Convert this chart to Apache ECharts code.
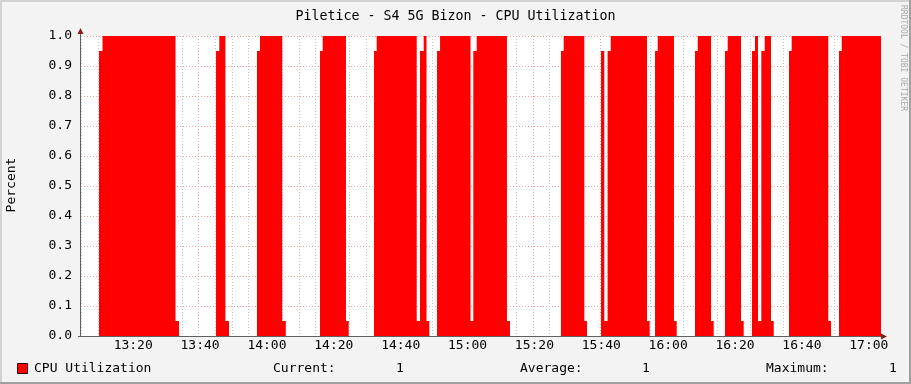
<!DOCTYPE html>
<html>
<head>
<meta charset="utf-8">
<script src="https://cdn.jsdelivr.net/npm/echarts@6/dist/echarts.min.js"></script>
<style>
html,body{margin:0;padding:0;background:#F3F3F3;}
#chart{width:911px;height:384px;}
</style>
</head>
<body>
<div id="chart"></div>
<script>
// ---- data ----
const chartTitle = 'Piletice - S4 5G Bizon - CPU Utilization';
const yAxisName = 'Percent';
const seriesName = 'CPU Utilization';
const rangeStart = '13:04:50';
const rangeEnd = '17:04:06';
// change points of the step series: value holds from this time until the next one
const changeTimes = [
  '13:04:50','13:10:13','13:11:16','13:33:06','13:34:09',
  '13:45:13','13:46:12','13:48:01','13:49:06',
  '13:57:28','13:58:22','14:05:01','14:06:05',
  '14:16:19','14:17:07','14:24:05','14:24:54',
  '14:32:28','14:33:16','14:45:14','14:46:13','14:47:20','14:48:10','14:49:01',
  '14:51:19','14:52:13','15:01:20','15:02:10','15:03:11','15:12:14','15:13:08',
  '15:28:23','15:29:12','15:35:22','15:36:10',
  '15:40:22','15:41:20','15:42:20','15:43:16','15:54:07','15:54:55',
  '15:56:31','15:57:19','16:02:11','16:03:00',
  '16:08:28','16:09:17','16:13:16','16:14:04',
  '16:17:26','16:18:15','16:22:14','16:23:02',
  '16:25:31','16:26:25','16:27:19','16:28:18','16:29:19','16:31:12','16:32:01',
  '16:36:35','16:37:23','16:48:20','16:49:09',
  '16:51:32','16:52:21','17:04:06'
];
const cpuValues = [
  0,0.95,1.0,0.05,0,
  0.95,1.0,0.05,0,
  0.95,1.0,0.05,0,
  0.95,1.0,0.05,0,
  0.95,1.0,0.05,0.95,1.0,0.05,0,
  0.95,1.0,0.05,0.95,1.0,0.05,0,
  0.95,1.0,0.05,0,
  0.95,0.05,0.95,1.0,0.05,0,
  0.95,1.0,0.05,0,
  0.95,1.0,0.05,0,
  0.95,1.0,0.05,0,
  0.95,1.0,0.05,0.95,1.0,0.05,0,
  0.95,1.0,0.05,0,
  0.95,1.0,1.0
];
const legendStats = [
  ['Current:', '1'],
  ['Average:', '1'],
  ['Maximum:', '1']
];
const creditText = 'RRDTOOL / TOBI OETIKER';

// ---- helpers: x is minutes after 13:00 ----
const BASE_MIN = 13 * 60;
function toMin(s){
  const p = s.split(':').map(Number);
  return p[0] * 60 + p[1] + (p[2] || 0) / 60 - BASE_MIN;
}
function fmtMin(v){
  const total = Math.round(v) + BASE_MIN;
  const h = Math.floor(total / 60), m = total % 60;
  return String(h).padStart(2, '0') + ':' + String(m).padStart(2, '0');
}
const seriesData = changeTimes.map((t, i) => [toMin(t), cpuValues[i]]);
const xMin = toMin(rangeStart), xMax = toMin(rangeEnd);
const span = xMax - xMin;

const MONO = '"DejaVu Sans Mono", "Liberation Mono", monospace';
const gridL = 81, gridT = 36, gridW = 800, gridH = 300;

const statX = [[273, 396], [520, 642], [766, 889]];
const graphics = [
  // frame
  {type:'rect', shape:{x:0,y:0,width:911,height:2}, style:{fill:'#D2D2D2'}, silent:true},
  {type:'rect', shape:{x:0,y:0,width:2,height:384}, style:{fill:'#D2D2D2'}, silent:true},
  {type:'rect', shape:{x:0,y:382,width:911,height:2}, style:{fill:'#A0A0A0'}, silent:true},
  {type:'rect', shape:{x:909,y:0,width:2,height:384}, style:{fill:'#A0A0A0'}, silent:true},
  // axes lines
  {type:'line', shape:{x1:80.5,y1:336,x2:80.5,y2:31}, style:{stroke:'#606060',lineWidth:1}, z:20, silent:true},
  {type:'line', shape:{x1:78,y1:336.5,x2:884,y2:336.5}, style:{stroke:'#606060',lineWidth:1}, z:20, silent:true},
  {type:'polygon', shape:{points:[[80.5,28],[77.5,34],[83.5,34]]}, style:{fill:'#8B1A1A'}, z:21, silent:true},
  {type:'polygon', shape:{points:[[887,336.5],[881,333.5],[881,339.5]]}, style:{fill:'#8B1A1A'}, z:21, silent:true},
  // y axis title
  {type:'text', x:12, y:185, rotation:Math.PI/2,
   style:{text:yAxisName, font:'13px ' + MONO, fill:'#000', textAlign:'center', textVerticalAlign:'middle'}, silent:true},
  // credit
  {type:'text', x:907, y:5, rotation:-Math.PI/2,
   style:{text:creditText, font:'8px ' + MONO, fill:'#A8A8A8', textAlign:'left', textVerticalAlign:'top'}, silent:true},
  // legend swatch + name
  {type:'rect', shape:{x:17.5,y:363.5,width:10,height:10}, style:{fill:'#FF0000', stroke:'#2a0000', lineWidth:1}, silent:true},
  {type:'text', x:34, y:368.5, style:{text:seriesName, font:'13px ' + MONO, fill:'#000', textVerticalAlign:'middle'}, silent:true}
];
legendStats.forEach((s, i) => {
  graphics.push({type:'text', x:statX[i][0], y:368.5, style:{text:s[0], font:'13px ' + MONO, fill:'#000', textVerticalAlign:'middle'}, silent:true});
  graphics.push({type:'text', x:statX[i][1], y:368.5, style:{text:s[1], font:'13px ' + MONO, fill:'#000', textVerticalAlign:'middle'}, silent:true});
});

function isMult(v, k){ return Math.abs(v / k - Math.round(v / k)) < 1e-6; }

const chart = echarts.init(document.getElementById('chart'), null, {renderer:'canvas'});
chart.setOption({
  animation: false,
  backgroundColor: '#F3F3F3',
  textStyle: {fontFamily: MONO},
  title: {
    text: chartTitle, left: 'center', top: 5,
    textStyle: {fontFamily: MONO, fontSize: 13.3, fontWeight: 'normal', color: '#000'}
  },
  grid: {left: gridL, top: gridT, width: gridW, height: gridH, show: true, backgroundColor: '#FFFFFF',
    borderWidth: 0, containLabel: false, outerBoundsMode: 'none'},
  xAxis: [
    {
      type: 'value', gridIndex: 0, min: xMin, max: xMax,
      splitNumber: Math.round(span / 5), minInterval: 5, maxInterval: 5,
      axisLine: {show: false}, axisTick: {show: false}, axisLabel: {show: false},
      splitLine: {show: true, showMinLine: false, showMaxLine: false,
        lineStyle: {color: '#C8C8C8', width: 1, type: [1, 2]}},
      z: 1
    },
    {
      type: 'value', gridIndex: 0, position: 'bottom', min: xMin, max: xMax,
      splitNumber: Math.round(span / 20), minInterval: 20, maxInterval: 20,
      axisLine: {show: false}, axisTick: {show: false},
      axisLabel: {
        formatter: v => isMult(v, 20) ? fmtMin(v) : '',
        showMinLabel: false, showMaxLabel: false,
        fontFamily: MONO, fontSize: 13, color: '#000', margin: 3, hideOverlap: false,
        padding: [0, 0, 0, 3]
      },
      splitLine: {show: true, showMinLine: false, showMaxLine: false,
        lineStyle: {color: '#F2A0A0', width: 1, type: [1, 2]}},
      z: 2
    }
  ],
  yAxis: {
    type: 'value', min: 0, max: 1, interval: 0.1,
    axisLine: {show: false}, axisTick: {show: false},
    axisLabel: {formatter: v => v.toFixed(1), fontFamily: MONO, fontSize: 13, color: '#000', margin: 9},
    splitLine: {show: true, lineStyle: {color: '#F2A0A0', width: 1, type: [1, 2]}}
  },
  series: [{
    name: seriesName, type: 'line', xAxisIndex: 1, step: 'end',
    data: seriesData, showSymbol: false, symbol: 'none',
    lineStyle: {width: 0},
    areaStyle: {color: '#FF0000', opacity: 1},
    itemStyle: {color: '#FF0000'},
    z: 5
  }],
  graphic: graphics
});
</script>
</body>
</html>
